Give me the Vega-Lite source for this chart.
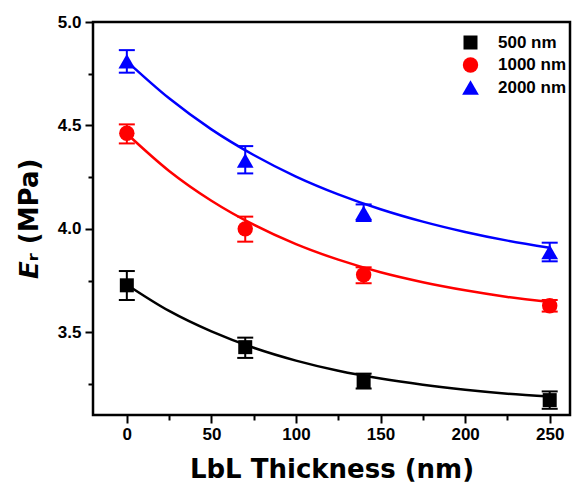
{
  "$schema": "https://vega.github.io/schema/vega-lite/v6.json",
  "width": 477,
  "height": 393,
  "autosize": "none",
  "padding": {"left": 93, "top": 22, "right": 6, "bottom": 70},
  "background": "white",
  "config": {
    "view": {"stroke": "black", "strokeWidth": 2.5},
    "font": "Liberation Sans",
    "axis": {
      "domain": false,
      "grid": false,
      "tickColor": "black",
      "tickWidth": 2,
      "tickSize": 8,
      "labelFont": "Liberation Sans",
      "labelFontWeight": "bold",
      "labelFontSize": 17,
      "labelColor": "black",
      "titleFont": "DejaVu Sans",
      "titleFontWeight": "bold",
      "titleColor": "black"
    }
  },
  "datasets": {
    "points": [
      {"series": "500 nm", "x": 0, "y": 3.727, "lo": 3.656, "hi": 3.796},
      {"series": "500 nm", "x": 70, "y": 3.428, "lo": 3.376, "hi": 3.474},
      {"series": "500 nm", "x": 140, "y": 3.264, "lo": 3.228, "hi": 3.300},
      {"series": "500 nm", "x": 250, "y": 3.172, "lo": 3.130, "hi": 3.214},
      {"series": "1000 nm", "x": 0, "y": 4.462, "lo": 4.413, "hi": 4.505},
      {"series": "1000 nm", "x": 70, "y": 4.0, "lo": 3.938, "hi": 4.059},
      {"series": "1000 nm", "x": 140, "y": 3.778, "lo": 3.737, "hi": 3.814},
      {"series": "1000 nm", "x": 250, "y": 3.628, "lo": 3.600, "hi": 3.656},
      {"series": "2000 nm", "x": 0, "y": 4.81, "lo": 4.755, "hi": 4.864},
      {"series": "2000 nm", "x": 70, "y": 4.33, "lo": 4.268, "hi": 4.40},
      {"series": "2000 nm", "x": 140, "y": 4.078, "lo": 4.038, "hi": 4.118},
      {"series": "2000 nm", "x": 250, "y": 3.888, "lo": 3.843, "hi": 3.933}
    ],
    "curve": [
      {"series": "500 nm", "x": 0, "y": 3.730},
      {"series": "500 nm", "x": 25, "y": 3.603},
      {"series": "500 nm", "x": 50, "y": 3.504},
      {"series": "500 nm", "x": 75, "y": 3.425},
      {"series": "500 nm", "x": 100, "y": 3.363},
      {"series": "500 nm", "x": 125, "y": 3.314},
      {"series": "500 nm", "x": 150, "y": 3.276},
      {"series": "500 nm", "x": 175, "y": 3.246},
      {"series": "500 nm", "x": 200, "y": 3.222},
      {"series": "500 nm", "x": 225, "y": 3.203},
      {"series": "500 nm", "x": 250, "y": 3.189},
      {"series": "1000 nm", "x": 0, "y": 4.460},
      {"series": "1000 nm", "x": 25, "y": 4.280},
      {"series": "1000 nm", "x": 50, "y": 4.136},
      {"series": "1000 nm", "x": 75, "y": 4.020},
      {"series": "1000 nm", "x": 100, "y": 3.926},
      {"series": "1000 nm", "x": 125, "y": 3.851},
      {"series": "1000 nm", "x": 150, "y": 3.790},
      {"series": "1000 nm", "x": 175, "y": 3.742},
      {"series": "1000 nm", "x": 200, "y": 3.703},
      {"series": "1000 nm", "x": 225, "y": 3.671},
      {"series": "1000 nm", "x": 250, "y": 3.646},
      {"series": "2000 nm", "x": 0, "y": 4.810},
      {"series": "2000 nm", "x": 25, "y": 4.631},
      {"series": "2000 nm", "x": 50, "y": 4.481},
      {"series": "2000 nm", "x": 75, "y": 4.357},
      {"series": "2000 nm", "x": 100, "y": 4.253},
      {"series": "2000 nm", "x": 125, "y": 4.167},
      {"series": "2000 nm", "x": 150, "y": 4.095},
      {"series": "2000 nm", "x": 175, "y": 4.035},
      {"series": "2000 nm", "x": 200, "y": 3.985},
      {"series": "2000 nm", "x": 225, "y": 3.943},
      {"series": "2000 nm", "x": 250, "y": 3.908}
    ]
  },
  "layer": [
    {
      "data": {"name": "curve"},
      "mark": {"type": "line", "strokeWidth": 2.5, "interpolate": "monotone", "clip": true},
      "encoding": {
        "x": {"field": "x", "type": "quantitative"},
        "y": {"field": "y", "type": "quantitative"},
        "stroke": {
          "field": "series",
          "type": "nominal",
          "scale": {"domain": ["2000 nm", "1000 nm", "500 nm"], "range": ["#0000ff", "#ff0000", "#000000"]},
          "legend": null
        }
      }
    },
    {
      "data": {"name": "points"},
      "mark": {"type": "rule", "strokeWidth": 2},
      "encoding": {
        "x": {"field": "x", "type": "quantitative"},
        "y": {"field": "lo", "type": "quantitative"},
        "y2": {"field": "hi"},
        "stroke": {"field": "series", "type": "nominal", "legend": null}
      }
    },
    {
      "data": {"name": "points"},
      "mark": {"type": "tick", "orient": "horizontal", "size": 16, "thickness": 2, "opacity": 1},
      "encoding": {
        "x": {"field": "x", "type": "quantitative"},
        "y": {"field": "lo", "type": "quantitative"},
        "fill": {"field": "series", "type": "nominal", "scale": {"domain": ["2000 nm", "1000 nm", "500 nm"], "range": ["#0000ff", "#ff0000", "#000000"]}, "legend": null}
      }
    },
    {
      "data": {"name": "points"},
      "mark": {"type": "tick", "orient": "horizontal", "size": 16, "thickness": 2, "opacity": 1},
      "encoding": {
        "x": {"field": "x", "type": "quantitative"},
        "y": {"field": "hi", "type": "quantitative"},
        "fill": {"field": "series", "type": "nominal", "legend": null}
      }
    },
    {
      "data": {"name": "points"},
      "mark": {"type": "point", "filled": true, "opacity": 1},
      "encoding": {
        "x": {
          "field": "x",
          "type": "quantitative",
          "scale": {"domain": [-20, 262], "nice": false, "zero": false},
          "axis": {
            "title": "LbL Thickness (nm)",
            "titleFontSize": 26,
            "titlePadding": 14,
            "labelPadding": 3,
            "values": [0, 25, 50, 75, 100, 125, 150, 175, 200, 225, 250],
            "labelExpr": "datum.value % 50 == 0 ? datum.label : ''",
            "tickSize": {"condition": {"test": "datum.value % 50 != 0", "value": 5}, "value": 8}
          }
        },
        "y": {
          "field": "y",
          "type": "quantitative",
          "scale": {"domain": [3.1, 5.0], "nice": false, "zero": false},
          "axis": {
            "title": "𝙀ᵣ (MPa)",
            "titleFontSize": 26,
            "titlePadding": 15,
            "labelPadding": 4,
            "values": [3.25, 3.5, 3.75, 4.0, 4.25, 4.5, 4.75, 5.0],
            "labelExpr": "(datum.value * 2) % 1 == 0 ? format(datum.value, '.1f') : ''",
            "tickSize": {"condition": {"test": "(datum.value * 2) % 1 != 0", "value": 5}, "value": 8}
          }
        },
        "color": {
          "field": "series",
          "type": "nominal",
          "scale": {"domain": ["500 nm", "1000 nm", "2000 nm"], "range": ["#000000", "#ff0000", "#0000ff"]},
          "legend": {"title": null, "orient": "none", "legendX": 368, "legendY": 12, "padding": 0, "rowPadding": 0.5, "labelOffset": 18, "labelFontSize": 17, "labelFontWeight": "bold", "labelFont": "Liberation Sans", "labelColor": "black", "symbolOpacity": 1}
        },
        "shape": {
          "field": "series",
          "type": "nominal",
          "scale": {"domain": ["500 nm", "1000 nm", "2000 nm"], "range": ["square", "circle", "triangle-up"]},
          "legend": {"title": null, "orient": "none", "legendX": 368, "legendY": 12, "padding": 0, "rowPadding": 0.5, "labelOffset": 18, "labelFontSize": 17, "labelFontWeight": "bold", "labelFont": "Liberation Sans", "labelColor": "black", "symbolOpacity": 1}
        },
        "size": {
          "field": "series",
          "type": "nominal",
          "scale": {"domain": ["500 nm", "1000 nm", "2000 nm"], "range": [196, 280, 350]},
          "legend": {"title": null, "orient": "none", "legendX": 368, "legendY": 12, "padding": 0, "rowPadding": 0.5, "labelOffset": 18, "labelFontSize": 17, "labelFontWeight": "bold", "labelFont": "Liberation Sans", "labelColor": "black", "symbolOpacity": 1}
        }
      }
    }
  ]
}
